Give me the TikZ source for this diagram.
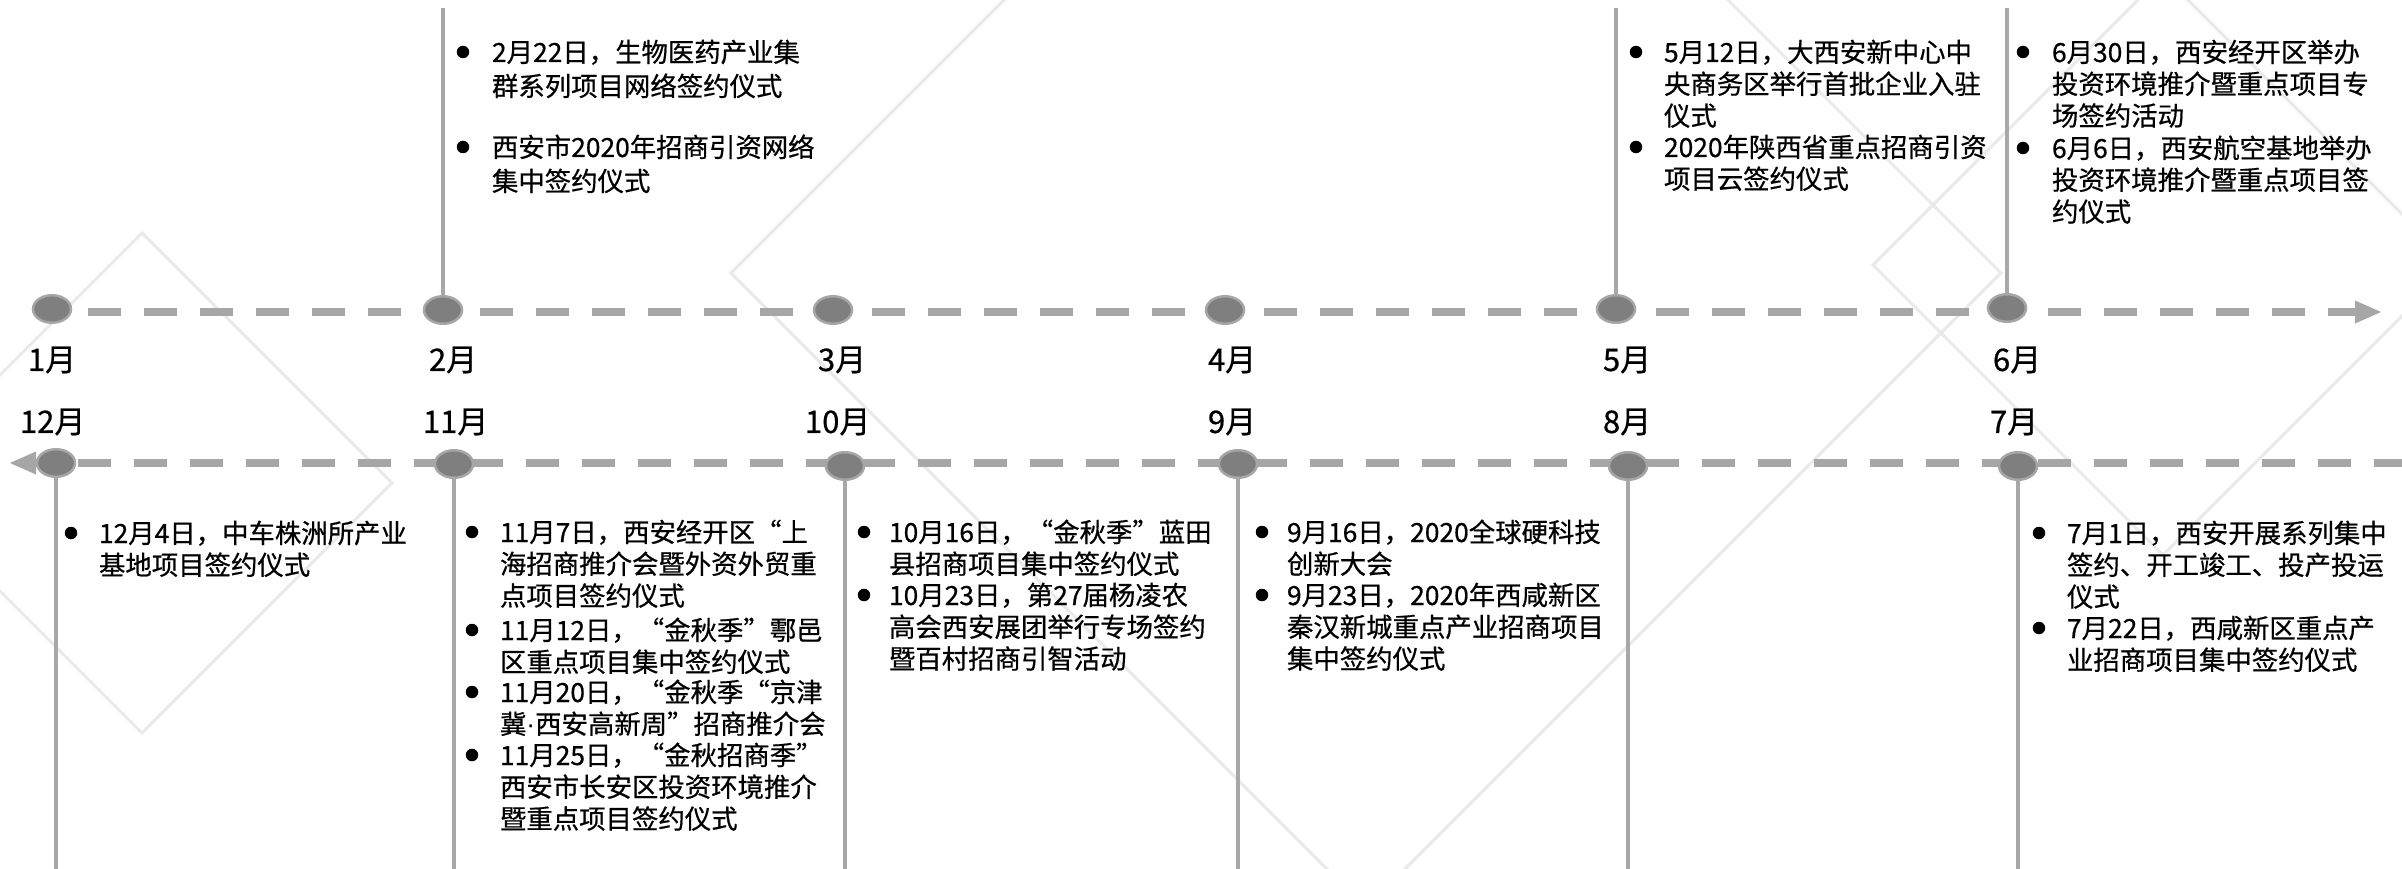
\documentclass[tikz,border=0pt]{standalone}
\usepackage{fontspec}
\setmainfont{Noto Sans CJK SC}[RawFeature={embolden=0.6}]
\newfontfamily\latinfont{Liberation Sans}
\usetikzlibrary{arrows.meta,shapes.geometric}
\definecolor{dashgray}{HTML}{A6A6A6}
\definecolor{dotfill}{HTML}{7F7F7F}
\definecolor{dotline}{HTML}{A6A6A6}
\definecolor{stemgray}{HTML}{A8A8A8}
\definecolor{decogray}{HTML}{EAEAEA}
\begin{document}
\begin{tikzpicture}[x=1pt,y=-1pt,
  every node/.style={inner sep=0pt, outer sep=0pt},
  decoline/.style={draw=decogray, line width=3pt},
  timeaxis/.style={draw=dashgray, line width=8pt, dash pattern=on 33pt off 23pt,
    -{Triangle[length=26pt,width=23pt,line width=0pt]}},
  mdot/.style={ellipse, minimum width=38pt, minimum height=27.5pt, fill=dotfill, draw=dotline, line width=2.5pt},
  stem/.style={draw=stemgray, line width=3.5pt},
  bul/.style={circle, fill=black, minimum size=12.5pt},
  evtext/.style={anchor=base west, text width=460pt, align=left, font=\fontsize{26.4}{31.8}\selectfont},
  mlabel/.style={anchor=west, font=\fontsize{31}{36}\selectfont}
]
\fill[white] (0,0) rectangle (2402,869);
\useasboundingbox (0,0) rectangle (2402,869);

% background diamonds
\begin{scope}
\clip (0,0) rectangle (2402,869);
\draw[decoline] (142,233) -- (392,483) -- (142,733) -- (-108,483) -- cycle;
\draw[decoline] (1366,-362) -- (2001,273) -- (1366,908) -- (731,273) -- cycle;
\draw[decoline] (2163,-25) -- (2453,265) -- (2163,555) -- (1873,265) -- cycle;
\end{scope}

% timelines
\coordinate (ts) at (88,312);
\coordinate (te) at (2381,312);
\draw[timeaxis] (ts) -- (te);
\coordinate (bs) at (2402,463);
\coordinate (be) at (10,463);
\draw[timeaxis, dash phase=5pt] (bs) -- (be);

% month dots
\node[mdot] (m1) at (52,309) {};
\node[mdot] (m2) at (443,310) {};
\node[mdot] (m3) at (833,310) {};
\node[mdot] (m4) at (1225,310) {};
\node[mdot] (m5) at (1616,309) {};
\node[mdot] (m6) at (2007,308) {};
\node[mdot] (m12) at (56,463) {};
\node[mdot] (m11) at (454,464) {};
\node[mdot] (m10) at (845,466) {};
\node[mdot] (m9) at (1238,464) {};
\node[mdot] (m8) at (1628,466) {};
\node[mdot] (m7) at (2018,466) {};

% stems
\coordinate (m2top) at (443,8);
\coordinate (m5top) at (1616,8);
\coordinate (m6top) at (2007,8);
\draw[stem] (m2.north) -- (m2top);
\draw[stem] (m5.north) -- (m5top);
\draw[stem] (m6.north) -- (m6top);
\coordinate (m12bot) at (56,869);
\coordinate (m11bot) at (454,869);
\coordinate (m10bot) at (845,869);
\coordinate (m9bot) at (1238,869);
\coordinate (m8bot) at (1628,869);
\coordinate (m7bot) at (2018,869);
\draw[stem] (m12.south) -- (m12bot);
\draw[stem] (m11.south) -- (m11bot);
\draw[stem] (m10.south) -- (m10bot);
\draw[stem] (m9.south) -- (m9bot);
\draw[stem] (m8.south) -- (m8bot);
\draw[stem] (m7.south) -- (m7bot);

% month labels
\node[mlabel] (l1) at (28,360) {1月};
\node[mlabel] (l2) at (429,360) {2月};
\node[mlabel] (l3) at (818,360) {3月};
\node[mlabel] (l4) at (1208,360) {4月};
\node[mlabel] (l5) at (1603,360) {5月};
\node[mlabel] (l6) at (1993,360) {6月};
\node[mlabel] (l12) at (20,422) {12月};
\node[mlabel] (l11) at (423,422) {11月};
\node[mlabel] (l10) at (805,422) {10月};
\node[mlabel] (l9) at (1208,422) {9月};
\node[mlabel] (l8) at (1603,422) {8月};
\node[mlabel] (l7) at (1990,422) {7月};

% February
\node[bul] (b2a) at (463,52) {};
\node[evtext, font=\fontsize{26.4}{34}\selectfont] (e2a) at (492,62) {2月22日，生物医药产业集\\群系列项目网络签约仪式};
\node[bul] (b2b) at (463,147) {};
\node[evtext, font=\fontsize{26.4}{34}\selectfont] (e2b) at (492,157) {西安市2020年招商引资网络\\集中签约仪式};

% May
\node[bul] (b5a) at (1636,52) {};
\node[evtext] (e5a) at (1664,62) {5月12日，大西安新中心中\\央商务区举行首批企业入驻\\仪式};
\node[bul] (b5b) at (1636,147) {};
\node[evtext] (e5b) at (1664,157) {2020年陕西省重点招商引资\\项目云签约仪式};

% June
\node[bul] (b6a) at (2023,52) {};
\node[evtext] (e6a) at (2052,62) {6月30日，西安经开区举办\\投资环境推介暨重点项目专\\场签约活动};
\node[bul] (b6b) at (2023,148) {};
\node[evtext] (e6b) at (2052,158) {6月6日，西安航空基地举办\\投资环境推介暨重点项目签\\约仪式};

% December
\node[bul] (b12a) at (71,533) {};
\node[evtext] (e12a) at (99,543) {12月4日，中车株洲所产业\\基地项目签约仪式};

% November
\node[bul] (b11a) at (472,532) {};
\node[evtext] (e11a) at (500,542) {11月7日，西安经开区“上\\海招商推介会暨外资外贸重\\点项目签约仪式};
\node[bul] (b11b) at (472,630) {};
\node[evtext] (e11b) at (500,640) {11月12日，“金秋季”鄠邑\\区重点项目集中签约仪式};
\node[bul] (b11c) at (472,692) {};
\node[evtext] (e11c) at (500,702) {11月20日，“金秋季“京津\\冀{\latinfont ·}西安高新周”招商推介会};
\node[bul] (b11d) at (472,755) {};
\node[evtext] (e11d) at (500,765) {11月25日，“金秋招商季”\\西安市长安区投资环境推介\\暨重点项目签约仪式};

% October
\node[bul] (b10a) at (864,532) {};
\node[evtext] (e10a) at (889,542) {10月16日，“金秋季”蓝田\\县招商项目集中签约仪式};
\node[bul] (b10b) at (864,595) {};
\node[evtext] (e10b) at (889,605) {10月23日，第27届杨凌农\\高会西安展团举行专场签约\\暨百村招商引智活动};

% September
\node[bul] (b9a) at (1262,532) {};
\node[evtext] (e9a) at (1287,542) {9月16日，2020全球硬科技\\创新大会};
\node[bul] (b9b) at (1262,595) {};
\node[evtext] (e9b) at (1287,605) {9月23日，2020年西咸新区\\秦汉新城重点产业招商项目\\集中签约仪式};

% July
\node[bul] (b7a) at (2039,533) {};
\node[evtext] (e7a) at (2067,543) {7月1日，西安开展系列集中\\签约、开工竣工、投产投运\\仪式};
\node[bul] (b7b) at (2039,628) {};
\node[evtext] (e7b) at (2067,638) {7月22日，西咸新区重点产\\业招商项目集中签约仪式};
\end{tikzpicture}
\end{document}
